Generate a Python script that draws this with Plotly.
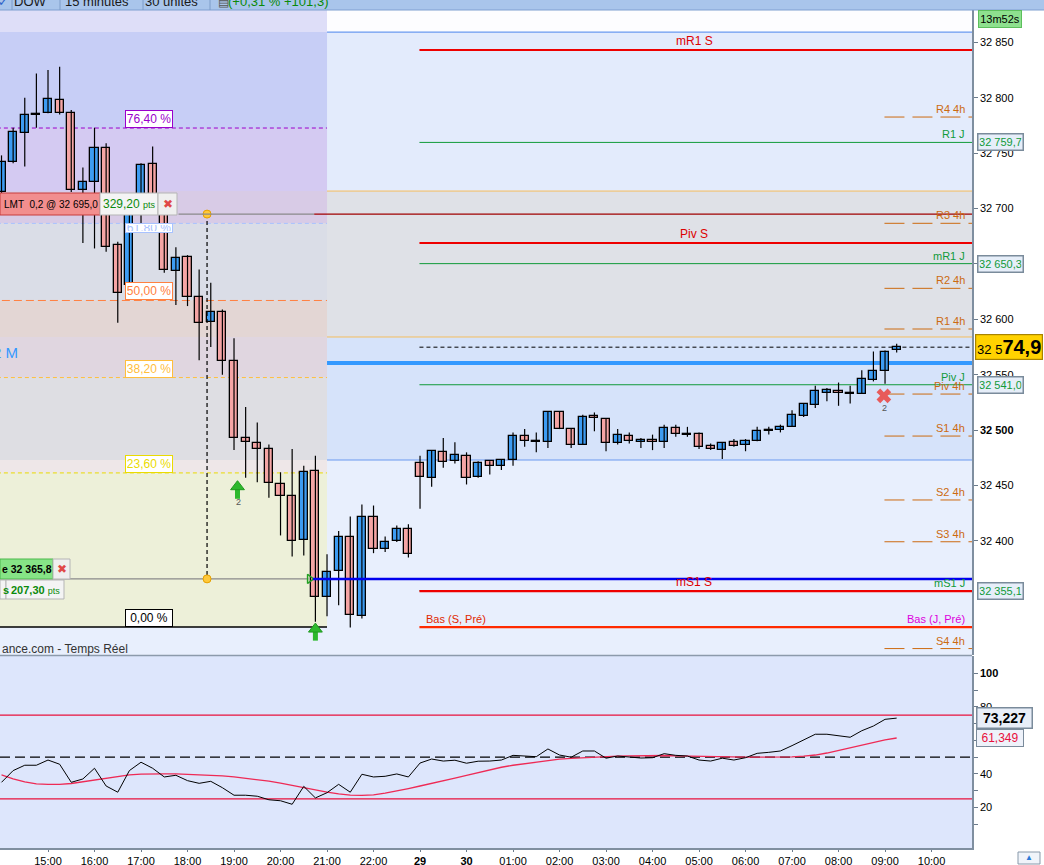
import plotly.graph_objects as go

W, H = 1044, 865
XR = 972  # right edge of the chart area (px)


def px(v):
    return v / W


def py(v):
    return 1 - v / H


# 15 minute candles, 14:00 -> 09:15
opens = [32715, 32742, 32768, 32784, 32786, 32798, 32786, 32717, 32724, 32755,
         32667, 32631, 32703, 32740, 32698, 32644, 32656, 32620, 32598, 32607,
         32562, 32493, 32488, 32483, 32451, 32441, 32401, 32463, 32349, 32373,
         32404, 32332, 32422, 32393, 32400, 32411, 32470, 32457, 32480, 32472,
         32477, 32458, 32472, 32468, 32473, 32495, 32490, 32489, 32516, 32501,
         32487, 32513, 32510, 32488, 32495, 32489, 32491, 32489, 32502, 32497,
         32497, 32486, 32482, 32489, 32487, 32490, 32499, 32500, 32503, 32513,
         32523, 32534, 32535, 32534, 32533, 32545, 32553, 32572]
highs = [32748, 32773, 32800, 32822, 32825, 32828, 32789, 32737, 32773, 32759,
         32670, 32706, 32741, 32756, 32703, 32665, 32658, 32645, 32633, 32609,
         32583, 32521, 32507, 32487, 32462, 32483, 32468, 32477, 32388, 32409,
         32422, 32433, 32432, 32404, 32414, 32415, 32477, 32482, 32493, 32489,
         32480, 32472, 32472, 32473, 32498, 32501, 32498, 32517, 32517, 32501,
         32514, 32516, 32511, 32501, 32498, 32493, 32496, 32505, 32505, 32503,
         32498, 32488, 32489, 32492, 32492, 32503, 32503, 32505, 32518, 32524,
         32540, 32538, 32543, 32540, 32554, 32571, 32572, 32578]
lows = [32712, 32741, 32738, 32773, 32786, 32785, 32715, 32669, 32664, 32661,
        32597, 32622, 32678, 32696, 32642, 32613, 32612, 32563, 32575, 32550,
        32482, 32457, 32453, 32439, 32405, 32386, 32387, 32327, 32332, 32342,
        32322, 32330, 32389, 32390, 32399, 32385, 32429, 32449, 32466, 32470,
        32451, 32457, 32460, 32464, 32468, 32485, 32480, 32484, 32501, 32484,
        32487, 32499, 32481, 32487, 32488, 32484, 32482, 32484, 32494, 32494,
        32483, 32482, 32474, 32485, 32481, 32490, 32496, 32498, 32503, 32512,
        32520, 32526, 32522, 32524, 32533, 32544, 32542, 32570]
closes = [32742, 32769, 32784, 32785, 32799, 32786, 32717, 32724, 32755, 32665,
          32624, 32703, 32739, 32700, 32645, 32655, 32620, 32597, 32607, 32562,
          32493, 32489, 32483, 32452, 32441, 32400, 32462, 32349, 32372, 32404,
          32333, 32422, 32393, 32399, 32411, 32388, 32458, 32481, 32471, 32478,
          32457, 32470, 32468, 32473, 32495, 32490, 32489, 32516, 32501, 32487,
          32512, 32511, 32488, 32496, 32490, 32491, 32489, 32502, 32497, 32496,
          32485, 32483, 32488, 32486, 32490, 32499, 32500, 32503, 32514, 32524,
          32535, 32536, 32534, 32533, 32546, 32553, 32571, 32574.9]

rsi = [34.9, 41.9, 45.1, 45.1, 48.2, 45.7, 34.9, 36.9, 43.3, 32.7,
       29.0, 41.9, 46.9, 43.3, 38.1, 39.1, 35.9, 34.3, 35.5, 31.7,
       27.2, 27.2, 26.6, 24.5, 23.9, 21.8, 32.5, 25.6, 28.7, 33.7,
       29.0, 39.7, 38.1, 38.5, 39.9, 38.1, 46.4, 48.8, 47.6, 48.1,
       46.3, 47.5, 47.6, 48.2, 51.0, 50.6, 50.2, 54.8, 51.2, 49.9,
       53.6, 53.6, 49.3, 50.6, 49.9, 49.4, 49.6, 52.0, 51.0, 50.6,
       48.2, 47.6, 49.3, 48.2, 49.6, 52.2, 52.8, 53.6, 56.8, 60.2,
       63.6, 63.6, 62.6, 61.8, 65.7, 68.5, 72.5, 73.227]
rsi_signal = [39.3, 37.0, 35.2, 34.0, 33.7, 33.7, 34.2, 35.2, 36.3, 37.6,
              38.6, 39.3, 39.8, 40.0, 40.0, 39.9, 39.7, 39.5, 39.2, 38.8,
              38.2, 37.4, 36.6, 35.6, 34.4, 33.0, 31.5, 30.2, 29.0, 28.0,
              27.3, 27.1, 27.4, 28.4, 29.6, 31.2, 32.7, 34.4, 35.9, 37.4,
              39.0, 40.7, 42.3, 43.9, 45.1, 46.0, 46.9, 47.9, 48.7, 49.2,
              49.6, 49.9, 50.2, 50.5, 50.7, 50.9, 51.0, 50.9, 50.7, 50.5,
              50.3, 50.2, 50.0, 49.9, 49.9, 49.9, 49.9, 49.9, 50.1, 50.5,
              51.2, 52.4, 54.0, 55.6, 57.5, 59.0, 60.3, 61.349]

hour_labels = ["15:00", "16:00", "17:00", "18:00", "19:00", "20:00", "21:00",
               "22:00", "<b>29</b>", "<b>30</b>", "01:00", "02:00", "03:00",
               "04:00", "05:00", "06:00", "07:00", "08:00", "09:00", "10:00"]
price_ticks = [32400, 32450, 32500, 32550, 32600, 32650, 32700, 32750, 32800, 32850]
rsi_ticks = [10, 20, 30, 40, 50, 60, 70, 80, 90, 100]

# pivot levels
h4_names = ["R4 4h", "R3 4h", "R2 4h", "R1 4h", "Piv 4h", "S1 4h", "S2 4h", "S3 4h", "S4 4h"]
h4_values = [32782.6, 32686.7, 32628.0, 32591.3, 32532.6, 32494.7, 32437.0, 32399.3, 32302.9]
day_names = ["R1 J", "mR1 J", "Piv J", "mS1 J"]
day_values = [32759.7, 32650.3, 32541.0, 32355.1]
week_names = ["mR1 S", "Piv S", "mS1 S"]
week_values = [32843.1, 32668.9, 32354.7]
prev_low = 32322.3
month_level = 32560.6
band_orange = [32715.8, 32584.1]
band_blue = [32859.3, 32473.1]

# fibonacci retracement
fib_low, fib_high = 32322.3, 32911.8
fib_pcts = [0, 23.6, 38.2, 50, 61.8, 76.4]
fib_texts = ["0,00 %", "23,60 %", "38,20 %", "50,00 %", "61,80 %", "76,40 %"]
fib_colors = ["black", "#eadb00", "#ffbe3c", "#ff8040", "#a8c2ff", "#9a00cc"]
fib_end = 28

order_limit = 32695.0
order_stop = 32365.8
last_price = closes[-1]

# signals: buy arrows (head / stem prices) and exit cross
buy_x = [20.3, 27]
buy_head = [32449, 32320.5]
buy_stem = [32442.5, 32314.5]
exit_x = [75.9]
exit_y = [32531]

y_top, y_bottom = 32879.2, 32297.1
x_range = [-0.13, 83.48]

n = len(opens)
idx = list(range(n))
up = [i for i in idx if closes[i] >= opens[i]]
down = [i for i in idx if closes[i] < opens[i]]
fib_prices = [fib_low + p / 100 * (fib_high - fib_low) for p in fib_pcts]

fig = go.Figure()

# wicks then bodies
wx, wy = [], []
for i in idx:
    wx += [i, i, None]
    wy += [lows[i], highs[i], None]
fig.add_trace(go.Scatter(x=wx, y=wy, mode="lines", line=dict(color="black", width=1.2),
                         hoverinfo="skip"))
fig.add_trace(go.Bar(x=up, base=[opens[i] for i in up], y=[closes[i] - opens[i] for i in up],
                     width=0.7, marker=dict(color="#3d9cf2", line=dict(color="black", width=1.3))))
fig.add_trace(go.Bar(x=down, base=[opens[i] for i in down], y=[closes[i] - opens[i] for i in down],
                     width=0.7, marker=dict(color="#f5a5a5", line=dict(color="black", width=1.3))))

# fib tool link
fig.add_trace(go.Scatter(x=[17.68, 17.68], y=[order_limit, order_stop], mode="lines+markers",
                         line=dict(color="black", width=1.2, dash="4px,3px"),
                         marker=dict(size=8, color="#ffc93a", line=dict(color="#e6a000", width=1))))
# signals
fig.add_trace(go.Scatter(x=buy_x, y=buy_stem, mode="markers",
                         marker=dict(symbol="line-ns", size=7, color="#2db82d",
                                     line=dict(color="#2db82d", width=5))))
fig.add_trace(go.Scatter(x=buy_x, y=buy_head, mode="markers",
                         marker=dict(symbol="triangle-up", size=12, color="#2db82d",
                                     line=dict(color="#1f9a1f", width=1))))
fig.add_trace(go.Scatter(x=exit_x, y=exit_y, mode="markers",
                         marker=dict(symbol="x", size=13, color="#e85a5a",
                                     line=dict(color="#e85a5a", width=0))))
fig.add_trace(go.Scatter(x=[26.5], y=[order_stop], mode="markers",
                         marker=dict(symbol="triangle-right-open", size=8, color="#22a022",
                                     line=dict(width=1.5))))

# RSI panel
fig.add_trace(go.Scatter(x=idx, y=rsi_signal, yaxis="y2", mode="lines",
                         line=dict(color="#ee2a55", width=1.3)))
fig.add_trace(go.Scatter(x=idx, y=rsi, yaxis="y2", mode="lines",
                         line=dict(color="black", width=1)))

shapes = []


def hline(y, x0, x1, color, width=1, dash="solid", xref="x", yref="y", layer="below"):
    shapes.append(dict(type="line", xref=xref, yref=yref, x0=x0, x1=x1, y0=y, y1=y,
                       line=dict(color=color, width=width, dash=dash), layer=layer))


def rect(x0, x1, y0, y1, fill, xref="x", yref="y", line=None, layer="below"):
    shapes.append(dict(type="rect", xref=xref, yref=yref, x0=x0, x1=x1, y0=y0, y1=y1,
                       fillcolor=fill, line=line or dict(width=0), layer=layer))


# price panel bands
rect(0, px(XR), band_blue[0], y_top, "#fdfdff", xref="paper")
rect(0, px(XR), band_orange[1], band_orange[0], "#dfe1e7", xref="paper")
rect(0, px(XR), band_blue[1], band_orange[1], "#d6e3fa", xref="paper")
rect(0, px(XR), y_bottom, band_blue[1], "#e8effd", xref="paper")

# fib box zones
f0, f236, f382, f50, f618, f764 = fib_prices
zones = [(band_blue[0], y_top, "#dedef8"), (f764, band_blue[0], "#c7cef6"),
         (band_orange[0], f764, "#d4caf2"), (f618, band_orange[0], "#d8cbe6"),
         (f50, f618, "#dadde7"), (band_orange[1], f50, "#e3d6d4"),
         (f382, band_orange[1], "#e0d6e0"), (band_blue[1], f382, "#dedee3"),
         (f236, band_blue[1], "#eee7e8"), (f0, f236, "#edf0d9")]
for lo, hi, c in zones:
    rect(-1, fib_end, lo, hi, c)

# RSI background
rect(0, px(XR), 0, 1, "#dde6fc", xref="paper", yref="y2 domain")

# thin full-width lines
for v in band_orange:
    hline(v, 0, px(XR), "#f5bd5e", 1, xref="paper")
for v in band_blue:
    hline(v, 0, px(XR), "#6a9af0", 1.2, xref="paper")

# fib lines
for p, c, pct in zip(fib_prices, fib_colors, fib_pcts):
    if pct == 0:
        hline(p, -1, fib_end, "black", 1.5)
    elif pct == 50:
        hline(p, -1, fib_end, c, 1, "8px,4px")
    else:
        hline(p, -1, fib_end, c, 1, "4px,3px")

# pivot lines
for v in h4_values:
    hline(v, 75.95, 83.6, "#cc6a10", 1, "20px,8px")
for v in day_values:
    hline(v, 35.95, 83.6, "#119a3a", 1)
for v in week_values:
    hline(v, 35.95, 83.6, "#ee0000", 2.2)
hline(prev_low, 35.95, 83.6, "#ff2a00", 2.2)
hline(month_level, 0, px(XR), "#3399ff", 4, xref="paper")
hline(last_price, 35.95, 83.6, "black", 1, "4px,3px")

# order lines
hline(order_limit, 177 / 11.625, 26.9, "#8a8a8a", 1.2, layer="above")
hline(order_limit, 26.9, 83.6, "#a00000", 1.2, layer="above")
hline(order_stop, -1, 26.4, "#8a8a8a", 1.2, layer="below")
hline(order_stop, 26.8, 83.6, "#0000ee", 2.5, layer="above")

# RSI guide lines
hline(75, 0, px(XR), "#e8103c", 1.2, xref="paper", yref="y2")
hline(25, 0, px(XR), "#e8103c", 1.2, xref="paper", yref="y2")
hline(50, 0, px(XR), "black", 1.2, "10px,5px", xref="paper", yref="y2")

# panel separator
hline(py(655.5), 0, px(XR), "#8c9aab", 1.5, xref="paper", yref="paper", layer="above")

# header bar
rect(0, 1, py(10), 1, "#a9c5eb", xref="paper", yref="paper", layer="above")
hline(py(10), 0, 1, "#7f9fd0", 1, xref="paper", yref="paper", layer="above")
for sx in [12, 60, 143, 210]:
    shapes.append(dict(type="line", xref="paper", yref="paper", x0=px(sx), x1=px(sx),
                       y0=py(10), y1=1, line=dict(color="#7c9cc8", width=1), layer="above"))

# order tickets
box_line = dict(color="#b5b5b5", width=1)
rect(0, px(100), py(215), py(193), "#f28e8e", "paper", "paper", dict(color="#c83c3c", width=1), "above")
rect(px(100), px(158), py(215), py(193), "#f4f4f4", "paper", "paper", box_line, "above")
rect(px(158), px(177), py(215), py(193), "#efefef", "paper", "paper", box_line, "above")
rect(0, px(53), py(579), py(559), "#86e486", "paper", "paper", dict(color="#4cb84c", width=1), "above")
rect(px(53), px(70), py(579), py(559), "#efefef", "paper", "paper", box_line, "above")
rect(0, px(6), py(599), py(580), "#f4f4f4", "paper", "paper", box_line, "above")
rect(px(6), px(64), py(599), py(580), "#f4f4f4", "paper", "paper", box_line, "above")

# little button bottom right
rect(px(1018), px(1040), py(864), py(852), "#f0f4fa", "paper", "paper", dict(color="#8899aa", width=1), "above")

ann = []


def text(x, y, s, color="black", size=11, xanchor="center", yanchor="middle",
         xref="paper", yref="paper", **kw):
    ann.append(dict(x=x, y=y, text=s, xref=xref, yref=yref, xanchor=xanchor, yanchor=yanchor,
                    showarrow=False, font=dict(color=color, size=size), **kw))


# level labels
for name, v in zip(h4_names, h4_values):
    text(px(967), v, name, "#cc6a10", xanchor="right", yanchor="bottom", yref="y")
for name, v in zip(day_names, day_values):
    text(px(967), v, name, "#119a3a", xanchor="right", yanchor="bottom", yref="y")
for name, v in zip(week_names, week_values):
    text(px(694), v, name, "#dd0000", size=12, yanchor="bottom", yref="y")
text(px(424), prev_low, "Bas (S, Pré)", "#e02800", xanchor="left", yanchor="bottom", yref="y")
text(px(967), prev_low, "Bas (J, Pré)", "#dd00dd", xanchor="right", yanchor="bottom", yref="y")
text(px(20), month_level, "2 M", "#3399ff", size=15, xanchor="right", yanchor="bottom", yref="y")

# fib labels
for p, t, c in zip(fib_prices, fib_texts, fib_colors):
    if t == "61,80 %":
        continue
    text(px(148.5), p, t, c, size=12, yanchor="bottom", yref="y",
         bgcolor="white", bordercolor=c, borderwidth=1, width=44, height=14)
text(px(148.5), fib_prices[4], fib_texts[4], fib_colors[4], size=12, yanchor="top", yref="y",
     bgcolor="white", bordercolor=fib_colors[4], borderwidth=1, width=44, height=6)

# signal counters
text(px(238), py(502), "2", "#555555", size=9)
text(px(884), py(408), "2", "#555555", size=9)

# order tickets text
text(px(2), py(204), "LMT  0,2 @ 32 695,0", "black", 10, "left")
text(px(129), py(204), '329,20 <span style="font-size:9px">pts</span>', "#0b8a0b", 12)
text(px(167.5), py(204), "✖", "#e04848", 12)
text(px(0), py(569), "<b>e 32 365,8</b>", "black", 10.5, "left")
text(px(61.5), py(569), "✖", "#e04848", 12)
text(px(1), py(589.5), "<b>s</b>", "#0b8a0b", 11, "left")
text(px(35), py(589.5), '<b>207,30</b> <span style="font-size:9px">pts</span>', "#0b8a0b", 11)
text(px(0), py(649), "ance.com - Temps Réel", "#333333", 12, "left")

# axis value boxes
for v in day_values:
    text(px(977), v, f"{v:,.1f}".replace(",", " ").replace(".", ","), "#119a3a", 11, "left", yref="y",
         bgcolor="#e6eef9", bordercolor="#7a8b9b", borderwidth=1.5, width=42, height=13)
text(px(975), last_price, '32 5<span style="font-size:20px"><b>74,9</b></span>', "black", 13,
     "left", yref="y", bgcolor="#ffd200", bordercolor="#a88400", borderwidth=1.2, width=64, height=22)
text(px(976), rsi[-1], "<b>73,227</b>", "black", 14, "left", yref="y2",
     bgcolor="#e8eef8", bordercolor="#7a8b9b", borderwidth=1.5, width=52, height=17)
text(px(976), rsi_signal[-1], "61,349", "#e8103c", 12, "left", yref="y2",
     bgcolor="#eef2fa", bordercolor="#7a8b9b", borderwidth=1, width=44, height=14)
text(px(999.5), py(19.5), "13m52s", "black", 11, bgcolor="#8ee08e", bordercolor="#5cbf5c",
     borderwidth=1, width=40, height=14)

# header texts (upper half cut by the window)
text(px(3), py(2), "✓", "#2a62c8", 12)
text(px(30), py(2), "DOW", "#1a1a1a", 13)
text(px(97), py(2), "15 minutes", "#1a1a1a", 13)
text(px(171), py(2), "30 unités", "#1a1a1a", 13)
text(px(223), py(2), "▤", "#555555", 12)
text(px(278), py(2), "(+0,31 % +101,3)", "#0a8a0a", 13)
text(px(1029), py(857), "▲", "#2a7ad8", 8)

axis_common = dict(ticks="outside", ticklen=4, tickcolor="#6b7b8c", showline=True,
                   linecolor="#7f8fa0", linewidth=1.5, showgrid=False, zeroline=False,
                   automargin=False)

fig.update_layout(
    width=W, height=H,
    margin=dict(l=0, r=0, t=0, b=0, autoexpand=False),
    paper_bgcolor="white",
    plot_bgcolor="#e3ebfc",
    font=dict(family="Liberation Sans, Arial, sans-serif", size=11, color="black"),
    showlegend=False,
    barmode="overlay",
    bargap=0,
    hovermode=False,
    shapes=shapes,
    annotations=ann,
    xaxis=dict(domain=[0, px(XR)], range=x_range, anchor="y2",
               tickvals=[4 * (k + 1) for k in range(len(hour_labels))], ticktext=hour_labels,
               tickfont=dict(size=11), **{**axis_common, "ticklen": 2}),
    yaxis=dict(domain=[py(655), py(10)], range=[y_bottom, y_top], side="right", anchor="x",
               tickvals=price_ticks,
               ticktext=["<b>32 500</b>" if t == 32500 else f"{t:,}".replace(",", " ")
                         for t in price_ticks],
               **axis_common),
    yaxis2=dict(domain=[py(848), py(656)], range=[-4.3, 110.3], side="right", anchor="x",
                tickvals=rsi_ticks,
                ticktext=["<b>100</b>" if t == 100 else (str(t) if t % 20 == 0 else "")
                          for t in rsi_ticks],
                **axis_common),
)

fig.write_html(
    "out.html",
    config={"displayModeBar": False},
    post_script="document.body.style.margin='0';"
                "document.documentElement.style.overflow='hidden';"
                "document.body.style.overflow='hidden';",
)
